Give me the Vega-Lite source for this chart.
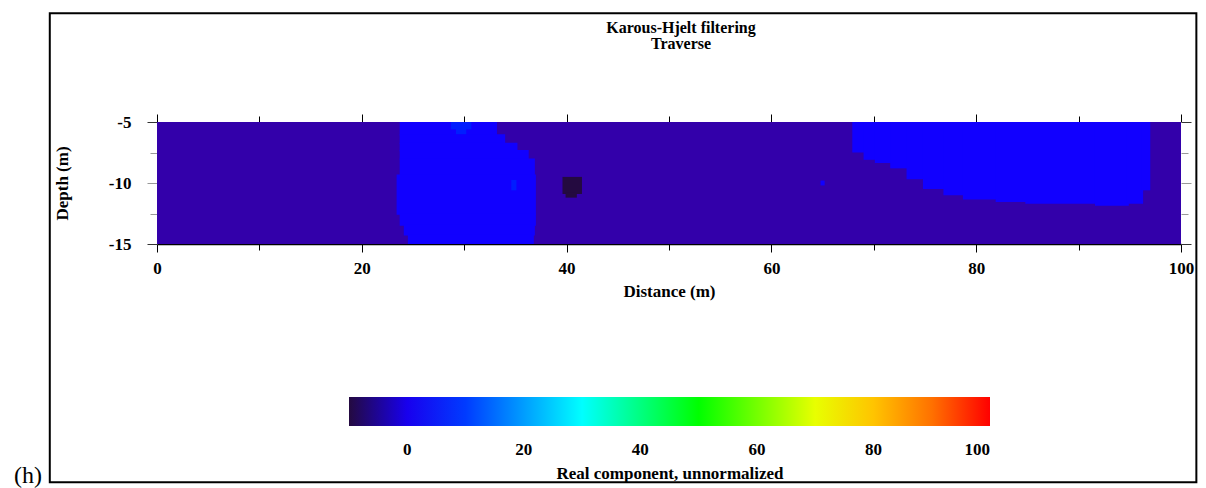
{
  "$schema": "https://vega.github.io/schema/vega-lite/v6.json",
  "width": 1024,
  "height": 122,
  "autosize": {"type": "none"},
  "padding": {"left": 157, "top": 122, "right": 25, "bottom": 244},
  "background": "white",
  "config": {"view": {"stroke": null}, "font": "Liberation Serif"},
  "title": {
    "text": "Karous-Hjelt filtering",
    "subtitle": "Traverse",
    "frame": "group",
    "anchor": "middle",
    "orient": "top",
    "offset": -40,
    "dx": 12,
    "font": "Liberation Serif",
    "fontSize": 16,
    "fontWeight": "bold",
    "color": "black",
    "subtitleFont": "Liberation Serif",
    "subtitleFontSize": 16,
    "subtitleFontWeight": "bold",
    "subtitleColor": "black",
    "subtitlePadding": 0
  },
  "resolve": {"axis": {"x": "independent", "y": "independent"}},
  "layer": [
    {
      "data": {
        "values": [
          {"x0": 0, "x1": 100, "y0": -15, "y1": -5, "v": -4},
          {"x0": 23.7, "x1": 33.2, "y0": -6.1, "y1": -5, "v": 1},
          {"x0": 23.7, "x1": 34.0, "y0": -6.8, "y1": -6, "v": 1},
          {"x0": 23.7, "x1": 35.2, "y0": -7.4, "y1": -6.7, "v": 1},
          {"x0": 23.7, "x1": 36.3, "y0": -8.1, "y1": -7.3, "v": 1},
          {"x0": 23.7, "x1": 36.9, "y0": -9.4, "y1": -8, "v": 1},
          {"x0": 23.4, "x1": 37.0, "y0": -12.6, "y1": -9.3, "v": 1},
          {"x0": 23.7, "x1": 37.0, "y0": -13.5, "y1": -12.5, "v": 1},
          {"x0": 24.1, "x1": 36.9, "y0": -14.3, "y1": -13.4, "v": 1},
          {"x0": 24.5, "x1": 36.8, "y0": -15, "y1": -14.2, "v": 1},
          {"x0": 67.9, "x1": 69.2, "y0": -7.5, "y1": -5, "v": 1},
          {"x0": 69.0, "x1": 70.3, "y0": -8.1, "y1": -5, "v": 1},
          {"x0": 70.1, "x1": 71.8, "y0": -8.36, "y1": -5, "v": 1},
          {"x0": 71.6, "x1": 73.4, "y0": -8.8, "y1": -5, "v": 1},
          {"x0": 73.2, "x1": 75.0, "y0": -9.7, "y1": -5, "v": 1},
          {"x0": 74.8, "x1": 77.0, "y0": -10.5, "y1": -5, "v": 1},
          {"x0": 76.8, "x1": 78.9, "y0": -11.0, "y1": -5, "v": 1},
          {"x0": 78.7, "x1": 82.1, "y0": -11.35, "y1": -5, "v": 1},
          {"x0": 81.9, "x1": 85.0, "y0": -11.56, "y1": -5, "v": 1},
          {"x0": 84.8, "x1": 91.8, "y0": -11.7, "y1": -5, "v": 1},
          {"x0": 91.6, "x1": 94.9, "y0": -11.86, "y1": -5, "v": 1},
          {"x0": 94.7, "x1": 96.3, "y0": -11.7, "y1": -5, "v": 1},
          {"x0": 96.1, "x1": 97.0, "y0": -10.6, "y1": -5, "v": 1},
          {"x0": 64.8, "x1": 65.2, "y0": -10.2, "y1": -9.8, "v": 1},
          {"x0": 28.7, "x1": 30.7, "y0": -5.6, "y1": -5, "v": 7},
          {"x0": 29.2, "x1": 30.2, "y0": -6.0, "y1": -5.5, "v": 7},
          {"x0": 34.6, "x1": 35.1, "y0": -10.6, "y1": -9.75, "v": 7},
          {"x0": 39.6, "x1": 41.5, "y0": -10.9, "y1": -9.5, "v": -10},
          {"x0": 39.9, "x1": 41.0, "y0": -11.2, "y1": -10.8, "v": -10}
        ]
      },
      "mark": {"type": "rect"},
      "encoding": {
        "x": {
          "field": "x0", "type": "quantitative",
          "scale": {"domain": [0, 100], "nice": false, "zero": false},
          "axis": {
            "orient": "bottom",
            "values": [0, 10, 20, 30, 40, 50, 60, 70, 80, 90, 100],
            "labelExpr": "datum.value % 20 === 0 ? toString(datum.value) : ''",
            "title": "Distance (m)",
            "titleFont": "Liberation Serif", "titleFontSize": 17, "titleFontWeight": "bold", "titleColor": "black",
            "titlePadding": 7,
            "labelFont": "Liberation Serif", "labelFontSize": 17, "labelFontWeight": "bold", "labelColor": "black",
            "labelPadding": 8,
            "labelFlush": false, "labelOverlap": false,
            "tickSize": {"condition": {"test": "datum.value % 20 === 0", "value": 8}, "value": 6},
            "tickColor": "black",
            "domainColor": "black", "domainWidth": 1.5,
            "grid": false
          }
        },
        "x2": {"field": "x1"},
        "y": {
          "field": "y0", "type": "quantitative",
          "scale": {"domain": [-15, -5], "nice": false, "zero": false},
          "axis": {
            "orient": "left",
            "values": [-5, -7.5, -10, -12.5, -15],
            "labelExpr": "datum.value % 5 === 0 ? toString(datum.value) : ''",
            "title": "Depth (m)",
            "titleFont": "Liberation Serif", "titleFontSize": 17, "titleFontWeight": "bold", "titleColor": "black",
            "titlePadding": 37,
            "labelFont": "Liberation Serif", "labelFontSize": 17, "labelFontWeight": "bold", "labelColor": "black",
            "labelPadding": 16,
            "labelFlush": false, "labelOverlap": false,
            "tickSize": {"condition": {"test": "datum.value % 5 === 0", "value": 10}, "value": 7},
            "tickColor": {"condition": {"test": "datum.value === -5 || datum.value === -15", "value": "#333"}, "value": "#999"},
            "domain": false,
            "grid": false
          }
        },
        "y2": {"field": "y1"},
        "color": {
          "field": "v", "type": "quantitative",
          "scale": {
            "type": "linear",
            "domain": [-10, -4, 1, 4, 30, 50, 72, 88, 100],
            "range": ["#240a40", "#3300aa", "#1100ff", "#0000ff", "#00ffff", "#00ff00", "#ffff00", "#ff8800", "#ff0000"],
            "interpolate": "rgb", "nice": false, "zero": false
          },
          "legend": {
            "type": "gradient",
            "orient": "none", "legendX": 192, "legendY": 275,
            "direction": "horizontal",
            "gradientLength": 641, "gradientThickness": 29, "gradientStrokeWidth": 0,
            "values": [0, 20, 40, 60, 80, 100],
            "labelAlign": "center", "labelOffset": 16,
            "labelFont": "Liberation Serif", "labelFontSize": 17, "labelFontWeight": "bold", "labelColor": "black",
            "labelOverlap": false,
            "title": "Real component, unnormalized",
            "titleLimit": 1000,
            "titleOrient": "bottom", "titleAnchor": "middle",
            "titleFont": "Liberation Serif", "titleFontSize": 17, "titleFontWeight": "bold", "titleColor": "black",
            "titlePadding": 8
          }
        }
      }
    },
    {
      "data": {"values": [{}]},
      "mark": {"type": "rect", "filled": false, "stroke": "black", "strokeWidth": 2},
      "encoding": {
        "x": {
          "datum": -10.47, "type": "quantitative",
          "scale": {"domain": [0, 100], "nice": false, "zero": false},
          "axis": {
            "orient": "top",
            "values": [0, 10, 20, 30, 40, 50, 60, 70, 80, 90, 100],
            "labels": false, "title": null,
            "tickSize": {"condition": {"test": "datum.value % 20 === 0", "value": 8}, "value": 6},
            "tickColor": "black",
            "domainColor": "#dddddd",
            "grid": false
          }
        },
        "x2": {"datum": 101.5},
        "y": {
          "datum": 3.91, "type": "quantitative",
          "scale": {"domain": [-15, -5], "nice": false, "zero": false},
          "axis": {
            "orient": "right",
            "values": [-5, -7.5, -10, -12.5, -15],
            "labels": false, "title": null,
            "tickSize": {"condition": {"test": "datum.value % 5 === 0", "value": 10}, "value": 7},
            "tickColor": {"condition": {"test": "datum.value === -5 || datum.value === -15", "value": "#333"}, "value": "#999"},
            "domain": false,
            "grid": false
          }
        },
        "y2": {"datum": -34.52}
      }
    },
    {
      "data": {"values": [{}]},
      "mark": {"type": "text", "text": "(h)", "font": "Liberation Serif", "fontSize": 24, "align": "center", "baseline": "alphabetic", "color": "black"},
      "encoding": {
        "x": {"datum": -12.6, "type": "quantitative", "scale": {"domain": [0, 100], "nice": false, "zero": false}, "axis": null},
        "y": {"datum": -34.55, "type": "quantitative", "scale": {"domain": [-15, -5], "nice": false, "zero": false}, "axis": null}
      }
    }
  ]
}
